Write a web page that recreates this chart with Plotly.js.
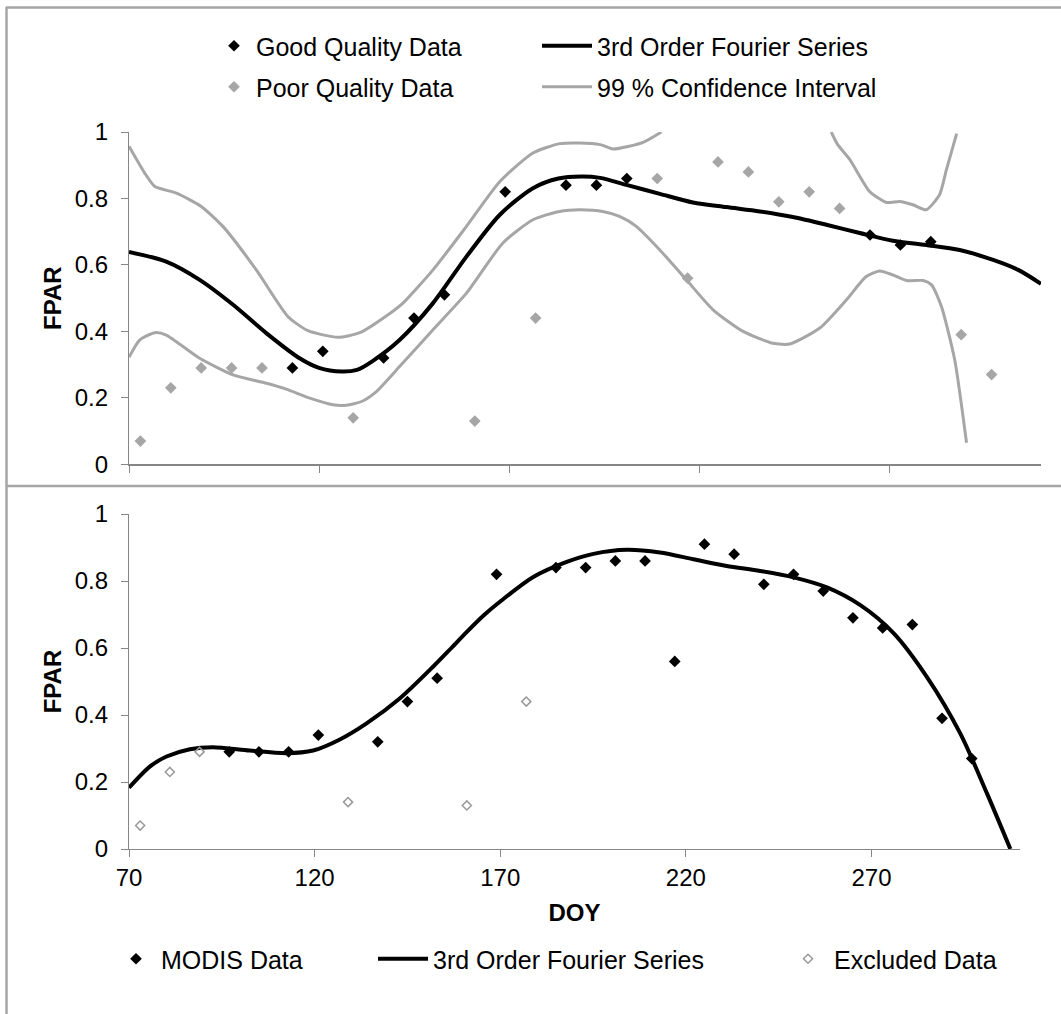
<!DOCTYPE html>
<html>
<head>
<meta charset="utf-8">
<script src="https://cdn.plot.ly/plotly-3.0.1.min.js"></script>
<style>html,body{margin:0;padding:0;background:#fff;}</style>
</head>
<body>
<div id="chart" style="width:1061px;height:1014px;"></div>
<script>
// ---------------- data ----------------
// Top panel: quality-flagged MODIS FPAR (8-day composites)
const goodDoy  = [113,121,137,145,153,169,185,193,201,265,273,281];
const goodFpar = [0.29,0.34,0.32,0.44,0.51,0.82,0.84,0.84,0.86,0.69,0.66,0.67];
const poorDoy  = [73,81,89,97,105,129,161,177,209,217,225,233,241,249,257,289,297];
const poorFpar = [0.07,0.23,0.29,0.29,0.29,0.14,0.13,0.44,0.86,0.56,0.91,0.88,0.79,0.82,0.77,0.39,0.27];

// Top panel: fitted 3rd order Fourier series
const fitTopDoy  = [70,79.8,88.6,97.4,106.2,114.9,120,126,130,134,141.2,150,158.8,167.6,176.3,183,189,194,200.9,209.7,218.4,227.2,236,244.7,253.5,262.3,271,279.8,288.6,297.4,304,310];
const fitTopFpar = [0.639,0.61,0.555,0.48,0.394,0.319,0.29,0.279,0.284,0.31,0.374,0.485,0.625,0.751,0.831,0.86,0.866,0.862,0.841,0.814,0.788,0.774,0.761,0.744,0.721,0.696,0.673,0.66,0.645,0.615,0.585,0.543];

// Top panel: 99 % confidence interval (upper bound leaves the axis range where null)
const ciUpDoy  = [70,74.1,76.8,82.5,89,94.7,103.5,111.8,117.1,125,130.7,139,142.1,150,158.8,167.6,176.3,183.4,188.6,194,197.4,205.3,210.1,232,254.8,256.5,259.7,264.9,269.3,272.8,276.3,279.8,283.3,285.1,287.8];
const ciUpFpar = [0.957,0.877,0.836,0.816,0.776,0.716,0.585,0.445,0.402,0.382,0.396,0.457,0.485,0.585,0.716,0.851,0.937,0.965,0.967,0.962,0.949,0.969,1.0,null,1.0,0.962,0.917,0.821,0.788,0.791,0.781,0.766,0.811,0.886,0.995];
const ciLoDoy  = [70,72.8,76.8,79.8,88.6,97.4,106.2,111.4,117.6,123.7,127.2,131.2,135.1,141.2,150,158.8,168.4,176.3,183.3,188.6,194.7,199.1,203.5,209.7,216.7,223.7,231.6,239.5,243.9,251.8,258.8,264,267.5,271,274.6,279,281.2,283.8,287.3,290.4];
const ciLoFpar = [0.322,0.374,0.396,0.389,0.319,0.269,0.244,0.226,0.199,0.179,0.178,0.189,0.219,0.294,0.405,0.515,0.666,0.736,0.761,0.766,0.761,0.746,0.716,0.645,0.555,0.465,0.40,0.364,0.362,0.41,0.495,0.565,0.582,0.57,0.553,0.553,0.54,0.475,0.314,0.065];

// Bottom panel: data used in the fit and excluded data
const modisDoy  = [97,105,113,121,137,145,153,169,185,193,201,209,217,225,233,241,249,257,265,273,281,289,297];
const modisFpar = [0.29,0.29,0.29,0.34,0.32,0.44,0.51,0.82,0.84,0.84,0.86,0.86,0.56,0.91,0.88,0.79,0.82,0.77,0.69,0.66,0.67,0.39,0.27];
const exclDoy   = [73,81,89,129,161,177];
const exclFpar  = [0.07,0.23,0.29,0.14,0.13,0.44];

// Bottom panel: fitted 3rd order Fourier series
const fitBotDoy  = [70,75.6,80.1,86.4,92.6,102.5,112.4,119.6,126.8,134,143,151.9,157,161,165.5,169.9,178.9,187.9,195.1,204.1,213,222,231,240,249,258,267,276,284.9,293.9,301.1,307.4];
const fitBotFpar = [0.183,0.246,0.276,0.298,0.304,0.294,0.286,0.294,0.327,0.375,0.45,0.544,0.602,0.648,0.697,0.738,0.812,0.857,0.881,0.893,0.885,0.865,0.845,0.83,0.811,0.781,0.728,0.644,0.514,0.345,0.166,0];

const xTickVals = [70,120,170,220,270];
const yTickVals = [0,0.2,0.4,0.6,0.8,1];

// ---------------- layout helpers ----------------
const W = 1061, H = 1014;
const PL = 129, PR = 1041, PT = 132, PB = 849;       // plot-area box in pixels
const px = v => (v - PL) / (PR - PL);
const py = v => (PB - v) / (PB - PT);

const BLACK = '#000000', GREY = '#a6a6a6', AXIS = '#868686';
const FONT = 'Liberation Sans, Arial, sans-serif';

const traces = [
  {x: ciUpDoy, y: ciUpFpar, xaxis:'x', yaxis:'y', mode:'lines', name:'99 % Confidence Interval',
   line:{color:GREY, width:3, shape:'spline', smoothing:0.6}, connectgaps:false, legend:'legend4', hoverinfo:'skip'},
  {x: ciLoDoy, y: ciLoFpar, xaxis:'x', yaxis:'y', mode:'lines', name:'99 % Confidence Interval',
   line:{color:GREY, width:3, shape:'spline', smoothing:0.6}, showlegend:false, hoverinfo:'skip'},
  {x: fitTopDoy, y: fitTopFpar, xaxis:'x', yaxis:'y', mode:'lines', name:'3rd Order Fourier Series',
   line:{color:BLACK, width:4, shape:'spline', smoothing:0.8}, legend:'legend2'},
  {x: poorDoy, y: poorFpar, xaxis:'x', yaxis:'y', mode:'markers', name:'Poor Quality Data',
   marker:{symbol:'diamond', color:GREY, size:9}, legend:'legend3'},
  {x: goodDoy, y: goodFpar, xaxis:'x', yaxis:'y', mode:'markers', name:'Good Quality Data',
   marker:{symbol:'diamond', color:BLACK, size:9}, legend:'legend'},

  {x: fitBotDoy, y: fitBotFpar, xaxis:'x2', yaxis:'y2', mode:'lines', name:'3rd Order Fourier Series',
   line:{color:BLACK, width:4, shape:'spline', smoothing:0.8}, legend:'legend6'},
  {x: modisDoy, y: modisFpar, xaxis:'x2', yaxis:'y2', mode:'markers', name:'MODIS Data',
   marker:{symbol:'diamond', color:BLACK, size:9}, legend:'legend5'},
  {x: exclDoy, y: exclFpar, xaxis:'x2', yaxis:'y2', mode:'markers', name:'Excluded Data',
   marker:{symbol:'diamond-open', color:'#9a9a9a', size:7, line:{width:1.5, color:'#9a9a9a'}}, legend:'legend7'}
];

const TICKFONT = {family:FONT, size:24, color:BLACK};
const TITLEFONT = {family:FONT, size:24, color:BLACK};

const baseX = {
  range:[70,310], tickvals:xTickVals, ticks:'outside', ticklen:7, tickwidth:1, tickcolor:AXIS,
  showline:true, linecolor:AXIS, linewidth:1.2, showgrid:false, zeroline:false, fixedrange:true,
  tickfont:TICKFONT, ticklabelstandoff:0
};
const baseY = {
  range:[0,1], tickvals:yTickVals, ticks:'outside', ticklen:7, tickwidth:1, tickcolor:AXIS,
  showline:true, linecolor:AXIS, linewidth:1.2, showgrid:false, zeroline:false, fixedrange:true,
  tickfont:TICKFONT, ticklabelstandoff:8,
  title:{text:'<b>FPAR</b>', font:TITLEFONT, standoff:6}
};

const legFont = {family:FONT, size:25, color:BLACK};
function leg(xpx, ypx, extra) {
  return Object.assign({x: px(xpx), y: py(ypx), xanchor:'left', yanchor:'middle', orientation:'v',
          bgcolor:'rgba(0,0,0,0)', borderwidth:0, font:legFont, itemclick:false, itemdoubleclick:false}, extra || {});
}

const border = (x0,y0,x1,y1) => ({type:'line', xref:'paper', yref:'paper',
  x0:px(x0), y0:py(y0), x1:px(x1), y1:py(y1), line:{color:GREY, width:2.5}});

const layout = {
  width:W, height:H,
  margin:{l:PL, r:W-PR, t:PT, b:H-PB, autoexpand:false},
  paper_bgcolor:'#ffffff', plot_bgcolor:'#ffffff',
  font:{family:FONT, size:24, color:BLACK},
  showlegend:true,
  xaxis: Object.assign({}, baseX, {domain:[0,1], anchor:'y', showticklabels:false}),
  yaxis: Object.assign({}, baseY, {domain:[py(464.3),1], anchor:'x'}),
  xaxis2: Object.assign({}, baseX, {domain:[0,px(1020)], anchor:'y2',
     title:{text:'<b>DOY</b>', font:TITLEFONT, standoff:14}}),
  yaxis2: Object.assign({}, baseY, {domain:[0,py(514)], anchor:'x2'}),
  legend:  leg(212, 46, {itemwidth:34}),
  legend2: leg(537, 46, {itemwidth:50}),
  legend3: leg(212, 87, {itemwidth:34}),
  legend4: leg(537, 87, {itemwidth:50}),
  legend5: leg(111, 959, {itemwidth:40}),
  legend6: leg(373, 959, {itemwidth:50}),
  legend7: leg(782, 959, {itemwidth:42}),
  shapes:[
    border(6, 7.5, 1061, 7.5),
    border(6.5, 7, 6.5, 1014),
    border(6, 486, 1061, 486)
  ]
};

Plotly.newPlot('chart', traces, layout, {displayModeBar:false, staticPlot:true});
</script>
</body>
</html>
